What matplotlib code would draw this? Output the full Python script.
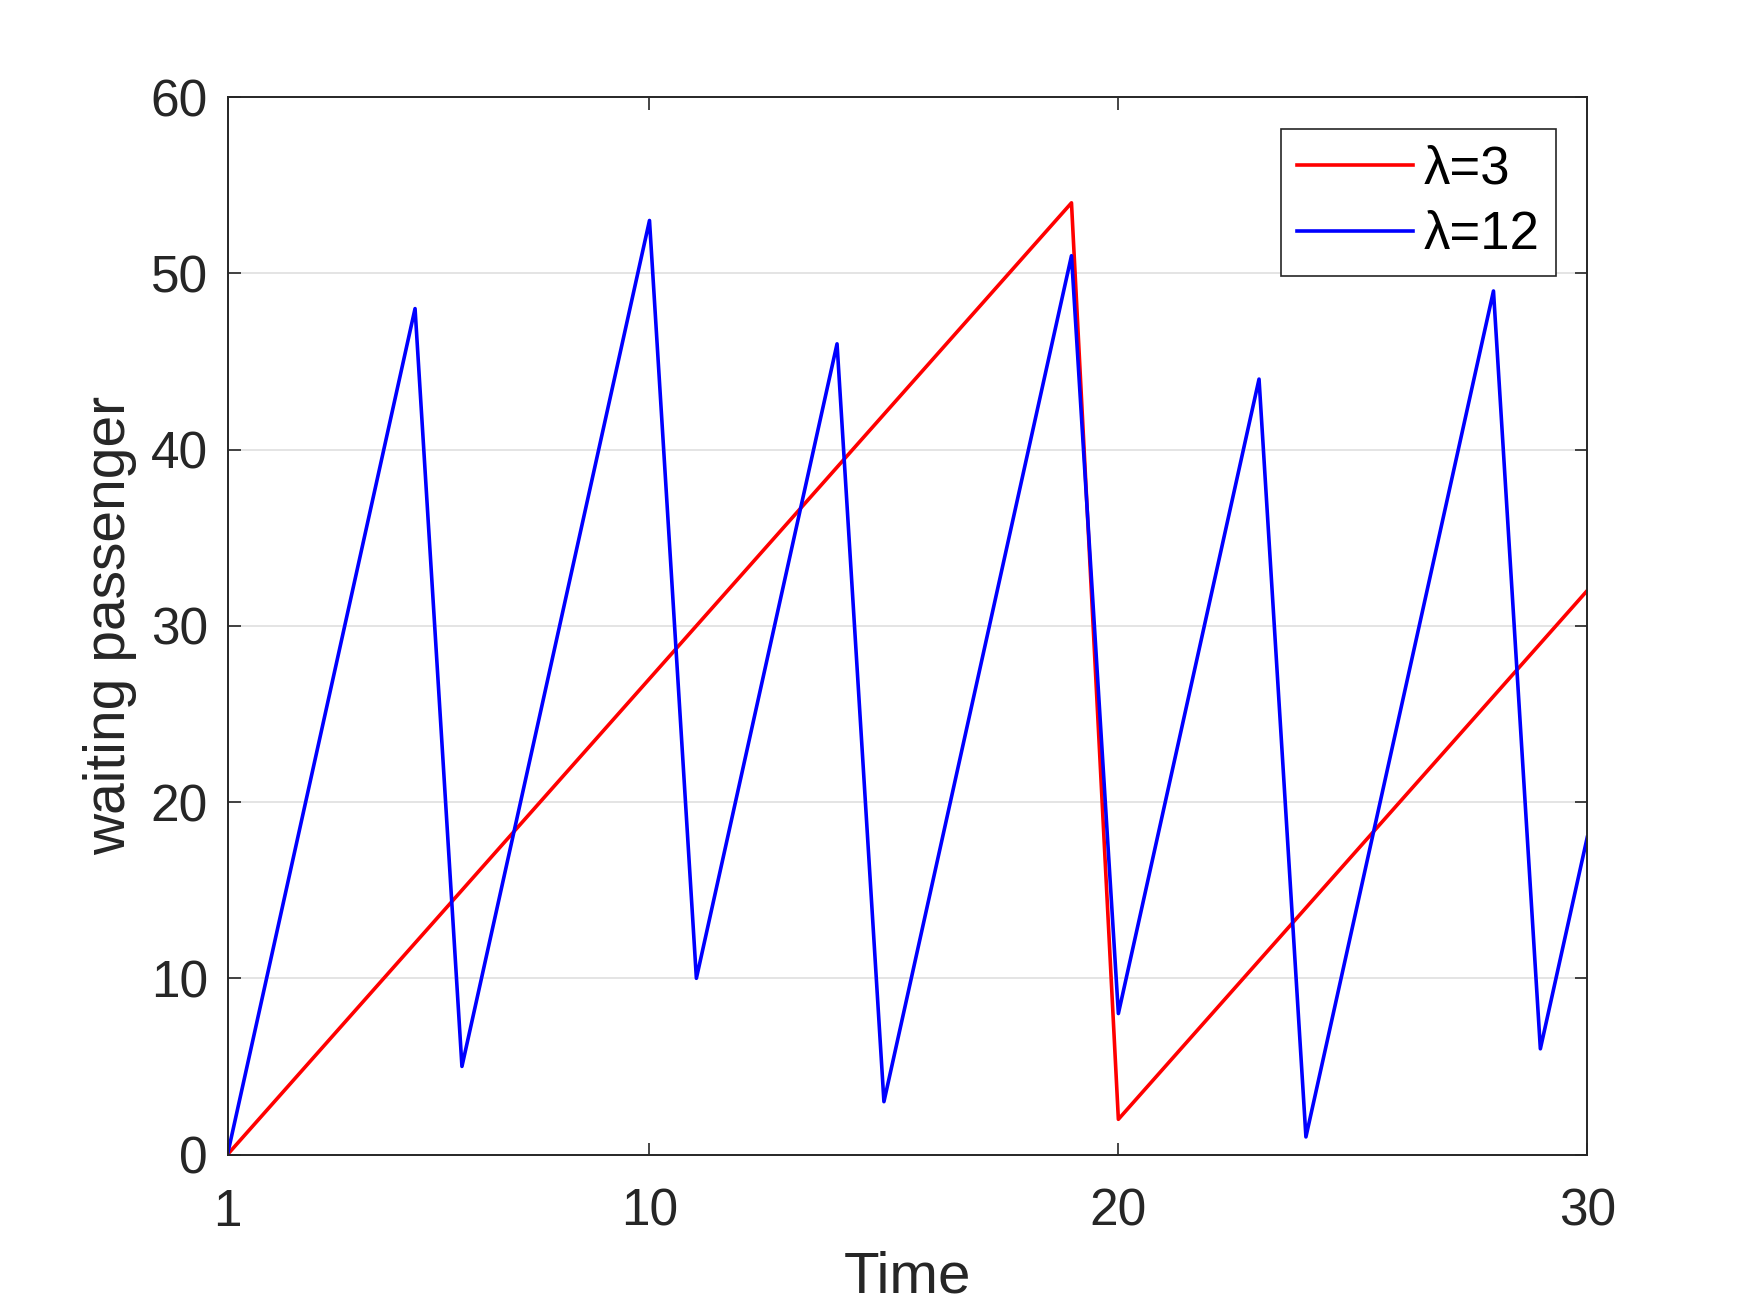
import matplotlib
matplotlib.use("Agg")
import matplotlib.pyplot as plt

# time steps and waiting passengers for two arrival rates
time = list(range(1, 31))
wait_lam3 = [0, 3, 6, 9, 12, 15, 18, 21, 24, 27, 30, 33, 36, 39, 42, 45, 48, 51, 54,
             2, 5, 8, 11, 14, 17, 20, 23, 26, 29, 32]
wait_lam12 = [0, 12, 24, 36, 48, 5, 17, 29, 41, 53, 10, 22, 34, 46, 3, 15, 27, 39, 51,
              8, 20, 32, 44, 1, 13, 25, 37, 49, 6, 18]
series_labels = ["λ=3", "λ=12"]
x_ticks = [1, 10, 20, 30]
y_ticks = [0, 10, 20, 30, 40, 50, 60]

plt.rcParams["font.family"] = ["Liberation Sans", "DejaVu Sans"]
dark = "#262626"

fig = plt.figure(figsize=(8.75, 6.56), dpi=200)
ax = fig.add_axes([0.13, 0.12, 0.777, 0.806])

ax.plot(time, wait_lam3, color="#ff0000", lw=1.3, label=series_labels[0])
ax.plot(time, wait_lam12, color="#0000ff", lw=1.3, label=series_labels[1])

ax.set_xlim(1, 30)
ax.set_ylim(0, 60)
ax.set_xticks(x_ticks)
ax.set_yticks(y_ticks)
ax.yaxis.grid(True, color="#dfdfdf", lw=0.6)
ax.set_axisbelow(True)

ax.tick_params(axis="both", direction="in", length=4.5, width=0.6, colors=dark,
               labelsize=18.5, top=True, right=True)
ax.tick_params(axis="x", pad=12)
ax.tick_params(axis="y", pad=7)
for sp in ax.spines.values():
    sp.set_color(dark)
    sp.set_linewidth(0.7)

ax.set_xlabel("Time", fontsize=21, color=dark, labelpad=5)
ax.set_ylabel("waiting passenger", fontsize=20.5, color=dark, labelpad=5)

leg = ax.legend(loc="upper right", fontsize=19, fancybox=False, framealpha=1,
                edgecolor=dark, borderaxespad=0.6, handlelength=2.2,
                handletextpad=0.2, labelspacing=0.3, borderpad=0.3)
leg.get_frame().set_linewidth(0.6)

fig.savefig("out.png", dpi=200)
